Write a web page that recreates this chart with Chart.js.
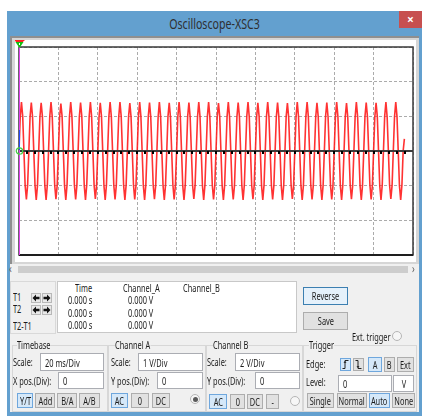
<!DOCTYPE html>
<html>
<head>
<meta charset="utf-8">
<title>Oscilloscope-XSC3</title>
<script src="https://cdn.jsdelivr.net/npm/chart.js@4.4.0/dist/chart.umd.min.js"></script>
<style>
  html, body { margin: 0; padding: 0; background: #ffffff; }
  #win { position: absolute; left: 0; top: 0; width: 422px; height: 416px; overflow: hidden;
         font-family: "Noto Sans", "Liberation Sans", sans-serif; font-size: 10px; color: #1b1b1b; }
  .box { position: absolute; box-sizing: border-box; }
  .lbl { position: absolute; white-space: nowrap; line-height: 12px; height: 12px;
         transform: scaleX(0.74); transform-origin: 0 50%; }
  .inp { background: #ffffff; border: 1px solid #abadb3; }
  .btn { background: #e1e1e1; border: 1px solid #adadad; display: flex; align-items: center;
         justify-content: center; white-space: nowrap; }
  .btn.on { background: #d5e8f9; border-color: #6fa7dd; }
  .btn span { display: inline-block; transform: scaleX(0.74); line-height: 12px; }
  .grp { border: 1px solid #d7d7d7; }
  .radio { border-radius: 50%; border: 1px solid #b4b4b4; background: #f6f6f6; }
  #scope { position: absolute; left: 15px; top: 40px; }
</style>
</head>
<body>
<div id="win">
  <div class="box" style="left:7px;top:11px;width:415px;height:405px;background:#63a0cf;"></div>
  <div class="box" style="left:10px;top:36px;width:409px;height:376px;background:#f0f0f0;"></div>
  <div class="box" style="left:0;top:17px;width:429px;height:14px;text-align:center;font-size:14px;line-height:14px;color:#2f2f2f;transform:scaleX(0.76);transform-origin:50% 50%;">Oscilloscope-XSC3</div>
  <div class="box" style="left:399px;top:11px;width:23px;height:17px;background:#c75050;color:#ffffff;font-size:12px;line-height:17px;text-align:center;font-weight:bold;">×</div>
  <!-- screen bezel -->
  <div class="box" style="left:10px;top:36px;width:409px;height:228px;background:#d6d6d6;border-left:2px solid #8f8f8f;border-top:2px solid #8f8f8f;"></div>
  <canvas id="scope" width="401" height="222"></canvas>
</div>

<script>
// Channel A samples (volts), one every sampleStepMs, eight per cycle of the 200 Hz signal
const sampleStepMs = 0.625;
const channelA = [
  0, 0.99, 1.41, 1.00, 0, -1.00, -1.40, -0.99,
  0, 1.00, 1.40, 0.99, 0, -0.99, -1.41, -1.00,
  0, 0.99, 1.39, 1.00, 0, -1.00, -1.41, -0.98,
  0, 1.00, 1.41, 0.99, 0, -0.99, -1.39, -1.00,
  0, 0.98, 1.37, 1.00, 0, -1.00, -1.41, -0.99,
  0, 1.00, 1.41, 0.99, 0, -0.98, -1.40, -1.00,
  0, 0.99, 1.40, 1.00, 0, -1.00, -1.41, -0.99,
  0, 1.00, 1.41, 0.98, 0, -0.99, -1.38, -1.00,
  0, 0.99, 1.39, 1.00, 0, -1.00, -1.41, -0.99,
  0, 1.00, 1.41, 0.99, 0, -0.99, -1.40, -1.00,
  0, 0.99, 1.41, 1.00, 0, -1.00, -1.41, -0.99,
  0, 1.00, 1.38, 0.99, 0, -0.99, -1.40, -1.00,
  0, 0.99, 1.41, 1.00, 0, -1.00, -1.41, -0.98,
  0, 1.00, 1.40, 0.99, 0, -0.99, -1.39, -1.00,
  0, 0.98, 1.41, 1.00, 0, -1.00, -1.41, -0.99,
  0, 1.00, 1.39, 0.99, 0, -0.98, -1.40, -1.00,
  0, 0.99, 1.41, 1.00, 0, -1.00, -1.41, -0.99,
  0, 1.00, 1.40, 0.98, 0, -0.99, -1.38, -1.00,
  0, 0.99, 1.41, 1.00, 0, -1.00, -1.41, -0.99,
  0, 1.00, 1.41, 0.99, 0, -0.99, -1.40, -1.00,
  0, 0.99, 1.38, 1.00, 0, -1.00, -1.41, -0.99,
  0, 1.00, 1.41, 0.99, 0, -0.99, -1.40, -1.00,
  0, 0.99, 1.40, 1.00, 0, -1.00, -1.41, -0.98,
  0, 1.00, 1.41, 0.99, 0, -0.99, -1.39, -1.00,
  0, 0.98, 1.39, 1.00, 0, -1.00, -1.41, -0.99,
  0, 1.00, 1.41, 0.99, 0, -0.98, -1.40, -1.00,
  0, 0.99, 1.40, 1.00, 0, -1.00, -1.41, -0.99,
  0, 1.00, 1.38, 0.98, 0, -0.99, -1.38, -1.00,
  0, 0.99, 1.41, 1.00, 0, -1.00, -1.41, -0.99,
  0, 1.00, 1.41, 0.99, 0, -0.99, -1.40, -1.00,
  0, 0.99, 1.39, 1.00, 0, -1.00, -1.41, -0.99,
  0, 1.00, 1.40, 0.99, 0, -0.99, -1.40, -1.00,
  0, 0.99, 1.41, 1.00, 0, -1.00, -1.41, -0.98,
  0, 1.00, 1.38, 0.99, 0, -0.99, -1.39, -1.00,
  0, 0.98, 1.41, 1.00, 0, -1.00, -1.41, -0.99,
  0, 1.00, 1.40, 0.99, 0, -0.98, -1.40, -1.00,
  0, 0.99, 1.39, 1.00, 0, -1.00, -1.41, -0.99,
  0, 1.00, 1.41, 0.98, 0, -0.99, -1.38, -1.00,
  0, 0.99, 1.41, 1.00, 0, -1.00, -1.41, -0.99,
  0, 0.35
];

// Screen settings: 20 ms/Div over 10 divisions, 1 V/Div over 6 divisions
const timeRangeMs = [0, 200];
const timePerDivMs = 20;
const voltRange = [-3, 3];
const voltsPerDiv = 1;
const minorTickMs = 4;

// Readout and control panel texts
const readoutHeaders = ['Time', 'Channel_A', 'Channel_B'];
const readoutTimes = ['0.000 s', '0.000 s', '0.000 s'];
const readoutVolts = ['0.000 V', '0.000 V', '0.000 V'];
const timebaseScale = '20 ms/Div';
const channelAScale = '1 V/Div';
const channelBScale = '2 V/Div';

// ---------- panel widgets ----------
const win = document.getElementById('win');
function add(cls, x, y, w, h, style, html) {
  const d = document.createElement('div');
  d.className = cls;
  d.style.left = x + 'px'; d.style.top = y + 'px';
  if (w != null) d.style.width = w + 'px';
  if (h != null) d.style.height = h + 'px';
  if (style) d.style.cssText += style;
  if (html != null) d.innerHTML = html;
  win.appendChild(d);
  return d;
}
function label(text, x, yc, style) { return add('lbl', x, yc - 6, null, null, style, text); }
function button(text, x1, x2, y1, y2, on) {
  return add('box btn' + (on ? ' on' : ''), x1, y1, x2 - x1, y2 - y1, null, '<span>' + text + '</span>');
}
function input(text, x1, x2, y1, y2, center) {
  const b = add('box inp', x1, y1, x2 - x1, y2 - y1);
  if (center) {
    add('box', x1, y1, x2 - x1, y2 - y1, 'display:flex;align-items:center;justify-content:center;', '<span style="transform:scaleX(0.74);display:inline-block">' + text + '</span>');
  } else {
    label(text, x1 + 5, (y1 + y2) / 2 + 0.5);
  }
  return b;
}
function radio(cx, cy, filled) {
  add('box radio', cx - 5, cy - 5, 10, 10);
  if (filled) add('box', cx - 2.5, cy - 2.5, 5, 5, 'border-radius:50%;background:#5a5a5a;');
}
// small arrow icon for the cursor step buttons
function arrowButton(x1, x2, y1, y2, dir) {
  const path = dir < 0 ? 'M0.5 4L4 0.5V2.7H7.5V5.3H4V7.5Z' : 'M7.5 4L4 0.5V2.7H0.5V5.3H4V7.5Z';
  add('box btn', x1, y1, x2 - x1, y2 - y1, 'background:#e8e8e8;border-color:#b8b8b8;',
      '<svg width="8" height="8"><path d="' + path + '" fill="#111"/></svg>');
}

// scrollbar
add('box', 10, 265, 409, 9, 'background:#f0f0f0;');
add('box', 18, 266, 390, 7, 'background:#cdcdcd;');
label('‹', 9, 269, 'color:#606060;font-size:12px;');
label('›', 412, 269, 'color:#606060;font-size:12px;');

// cursor readout
add('box', 10, 281, 46, 53, 'border:1px solid #d9d9d9;');
label('T1', 13, 297); label('T2', 13, 309); label('T2-T1', 13, 326);
[[293, 303], [305, 315]].forEach(([a, b]) => {
  arrowButton(31, 41, a, b, -1);
  arrowButton(42, 52, a, b, 1);
});
add('box', 57, 281, 240, 52, 'background:#ffffff;border:1px solid #c8c8c8;');
label(readoutHeaders[0], 75, 288); label(readoutHeaders[1], 123, 288); label(readoutHeaders[2], 183, 288);
[300, 312.5, 325].forEach((y, i) => { label(readoutTimes[i], 68, y); label(readoutVolts[i], 128, y); });
add('box btn', 303, 287, 45, 18, 'background:#e5f1fb;border-color:#3c7fb1;', '<span>Reverse</span>');
button('Save', 303, 348, 312, 330, false);
label('Ext. trigger', 352, 337);
radio(397, 336, false);

// control groups
add('box grp', 12, 345, 96, 67); add('box grp', 108, 345, 98, 67);
add('box grp', 206, 345, 97, 67); add('box grp', 303, 345, 114, 67);
label('Timebase', 17, 345, 'background:#f0f0f0;');
label('Channel A', 115, 345, 'background:#f0f0f0;');
label('Channel B', 213, 345, 'background:#f0f0f0;');
label('Trigger', 309, 345, 'background:#f0f0f0;');

label('Scale:', 13, 362); input(timebaseScale, 40, 104, 353, 371);
label('X pos.(Div):', 13, 381); input('0', 58, 104, 372, 389);
button('Y/T', 17, 33, 393, 408, true); button('Add', 35, 55, 393, 408);
button('B/A', 57, 77, 393, 408); button('A/B', 79, 100, 393, 408);

label('Scale:', 111, 362); input(channelAScale, 138, 203, 353, 371);
label('Y pos.(Div):', 111, 381); input('0', 157, 203, 372, 389);
button('AC', 111, 128, 393, 408, true); button('0', 131, 149, 393, 408); button('DC', 152, 170, 393, 408);
radio(195, 399, true);

label('Scale:', 207, 362); input(channelBScale, 235, 300, 353, 371);
label('Y pos.(Div):', 207, 381); input('0', 255, 300, 372, 389);
button('AC', 209, 227, 394, 409, true); button('0', 230, 245, 394, 409);
button('DC', 247, 263, 394, 409); button('-', 266, 279, 394, 409);
radio(295, 401, false);

label('Edge:', 306, 364);
add('box btn on', 340, 358, 11, 13, null, '<svg width="7" height="9"><path d="M0.5 8.5H3V0.5H6.5M2 3L3 1.5L4 3" fill="none" stroke="#222" stroke-width="1"/></svg>');
add('box btn', 353, 358, 11, 13, null, '<svg width="7" height="9"><path d="M0.5 0.5H3V8.5H6.5M2 6L3 7.5L4 6" fill="none" stroke="#222" stroke-width="1"/></svg>');
button('A', 368, 382, 357, 372, true); button('B', 384, 395, 357, 372); button('Ext', 397, 414, 357, 372);
label('Level:', 306, 382); input('0', 338, 392, 375, 392); input('V', 393, 414, 375, 392, true);
button('Single', 307, 334, 393, 408); button('Normal', 337, 367, 393, 408);
button('Auto', 369, 390, 393, 408, true); button('None', 392, 415, 393, 408);

// ---------- scope screen ----------
const screenDecor = {
  id: 'screenDecor',
  beforeDraw(chart) {
    const { ctx, width, height } = chart;
    ctx.save();
    ctx.fillStyle = '#ffffff';
    ctx.fillRect(0, 0, width, height);
    ctx.restore();
  },
  afterDatasetsDraw(chart) {
    const { ctx, chartArea: ca, scales: { x, y } } = chart;
    const y0 = Math.round(y.getPixelForValue(0));
    const xT = x.getPixelForValue(timeRangeMs[0]);
    ctx.save();
    // centre axis with minor ticks
    ctx.fillStyle = '#3c3c3c';
    ctx.fillRect(ca.left, y0 - 1, ca.right - ca.left, 2);
    ctx.fillStyle = '#000000';
    for (let t = minorTickMs; t < timeRangeMs[1]; t += minorTickMs) {
      const px = Math.round(x.getPixelForValue(t));
      ctx.fillRect(px - 1, y0, 2, 3);
    }
    // screen frame
    ctx.strokeStyle = '#3a3a3a';
    ctx.lineWidth = 1.5;
    ctx.strokeRect(ca.left, ca.top, ca.right - ca.left, ca.bottom - ca.top);
    ctx.fillStyle = '#1e1e1e';
    ctx.fillRect(ca.left, ca.bottom - 1, ca.right - ca.left, 2);
    // cursors T1 / T2
    ctx.fillStyle = '#e040ec';
    ctx.fillRect(Math.round(xT), ca.top, 1, ca.bottom - ca.top);
    ctx.fillStyle = '#2848ff';
    ctx.fillRect(Math.round(xT), y0 - 21, 1, 20);
    // channel A ground marker
    ctx.strokeStyle = '#44d044';
    ctx.lineWidth = 1.3;
    ctx.beginPath();
    ctx.arc(xT + 0.5, y0, 3.2, 0, Math.PI * 2);
    ctx.stroke();
    // cursor flags at the top
    ctx.fillStyle = '#ff2020';
    ctx.beginPath();
    ctx.moveTo(xT - 5, ca.top - 7); ctx.lineTo(xT + 6, ca.top - 7); ctx.lineTo(xT + 0.5, ca.top - 2);
    ctx.closePath(); ctx.fill();
    ctx.fillStyle = '#10c010';
    ctx.beginPath();
    ctx.moveTo(xT - 3.5, ca.top - 5); ctx.lineTo(xT + 4.5, ca.top - 5); ctx.lineTo(xT + 0.5, ca.top + 1);
    ctx.closePath(); ctx.fill();
    ctx.fillStyle = '#ffffff';
    ctx.fillRect(xT, ca.top - 4, 1, 2);
    ctx.restore();
  }
};

const gridStyle = { color: '#ababab', lineWidth: 1, drawTicks: false };

new Chart(document.getElementById('scope'), {
  type: 'line',
  data: {
    datasets: [{
      label: 'Channel_A',
      data: channelA.map((v, i) => ({ x: i * sampleStepMs, y: v })),
      borderColor: 'rgba(255, 28, 28, 0.9)',
      borderWidth: 1.6,
      pointRadius: 0,
      fill: false,
      tension: 0
    }]
  },
  options: {
    responsive: false,
    animation: false,
    devicePixelRatio: 1,
    layout: { padding: { left: 4, right: 3, top: 7, bottom: 7 } },
    plugins: { legend: { display: false }, tooltip: { enabled: false } },
    scales: {
      x: {
        type: 'linear', min: timeRangeMs[0], max: timeRangeMs[1],
        ticks: { display: false, stepSize: timePerDivMs },
        grid: gridStyle,
        border: { display: false, dash: [3, 2] }
      },
      y: {
        type: 'linear', min: voltRange[0], max: voltRange[1],
        ticks: { display: false, stepSize: voltsPerDiv },
        grid: gridStyle,
        border: { display: false, dash: [3, 2] }
      }
    }
  },
  plugins: [screenDecor]
});
</script>
</body>
</html>
